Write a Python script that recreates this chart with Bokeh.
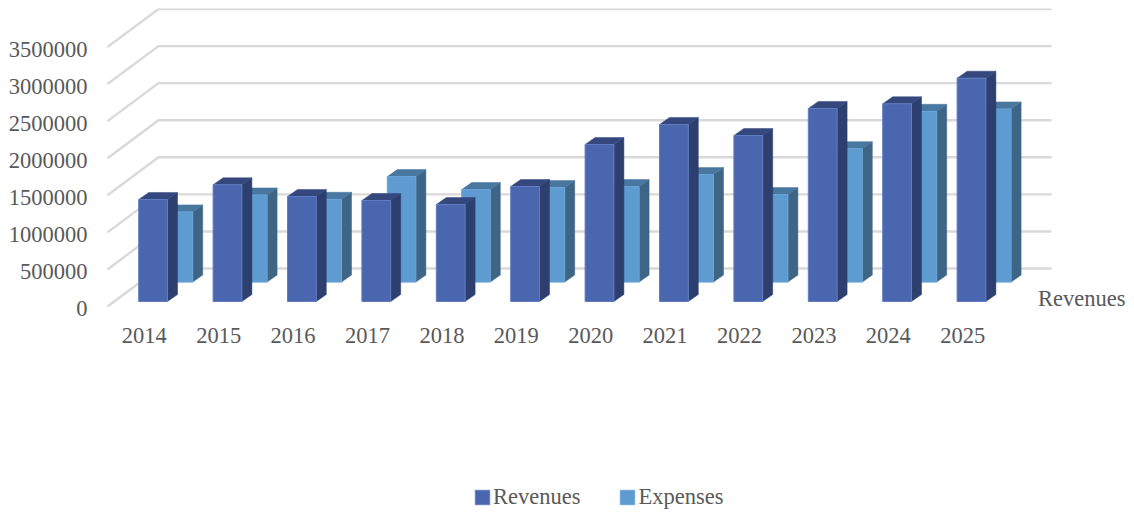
from bokeh.plotting import figure
from bokeh.layouts import column
from bokeh.models import FixedTicker, BasicTickFormatter, Range1d, Legend, LegendItem, Label
from bokeh.embed import file_html
from bokeh.resources import INLINE

years = [2014, 2015, 2016, 2017, 2018, 2019, 2020, 2021, 2022, 2023, 2024, 2025]
revenues = [1376000, 1574000, 1416000, 1362000, 1308000, 1551000, 2118000, 2387000, 2239000, 2603000, 2667000, 3012000]
expenses = [947000, 1176000, 1117000, 1423000, 1248000, 1275000, 1288000, 1450000, 1180000, 1800000, 2304000, 2336000]
value_ticks = [0, 500000, 1000000, 1500000, 2000000, 2500000, 3000000, 3500000]
series_names = ["Revenues", "Expenses"]

# Scales: pixels per year / value units per pixel
PX_YEAR = 74.4
VAL_PX = 13488.0
YEAR_PX = 1 / PX_YEAR
W, H, LEG_H = 1134, 470, 44
FRAME_L, FRAME_R, FRAME_T, FRAME_B = 92, 1126, 8, 322
TICK0_X, ZERO_Y = 143.8, 306
LABEL_DROP = 2  # value labels sit slightly below their gridline ends

FONT = "Liberation Serif"
TXT = "#595959"
FS = "22.5px"
REV = dict(front="#4A66AE", top="#34487E", side="#2D3F6F", edge="#5F7DC0")
EXP = dict(front="#5E9BD1", top="#48779F", side="#3E6586", edge="#6AA4D8")

y0, y1 = (ZERO_Y - FRAME_B) * VAL_PX, (ZERO_Y - FRAME_T) * VAL_PX
p = figure(width=W, height=H, output_backend="svg", toolbar_location=None,
           min_border_left=FRAME_L, min_border_right=W - FRAME_R, min_border_top=FRAME_T,
           min_border_bottom=H - FRAME_B,
           x_range=Range1d(years[0] + (FRAME_L - TICK0_X) * YEAR_PX, years[0] + (FRAME_R - TICK0_X) * YEAR_PX),
           y_range=Range1d(y0, y1))
p.extra_y_ranges = {"labels": Range1d(y0 + LABEL_DROP * VAL_PX, y1 + LABEL_DROP * VAL_PX)}
p.outline_line_color = None
p.background_fill_color = None
p.border_fill_color = "white"
p.grid.visible = False

for ax, tk in ((p.xaxis[0], years), (p.yaxis[0], value_ticks)):
    ax.ticker = FixedTicker(ticks=tk)
    ax.formatter = BasicTickFormatter(use_scientific=False)
    ax.axis_line_color = None
    ax.major_tick_line_color = None
    ax.minor_tick_line_color = None
    ax.major_tick_out = 0
    ax.major_tick_in = 0
    ax.major_label_text_font = FONT
    ax.major_label_text_font_size = FS
    ax.major_label_text_color = TXT
p.xaxis[0].major_label_standoff = 5
p.yaxis[0].major_label_standoff = 5
p.yaxis[0].y_range_name = "labels"


def dx(px):
    return px * YEAR_PX


def dy(px):
    return px * VAL_PX


# gridlines: front-left -> back-left -> back-right
GRID_FRONT_X, GRID_BACK_X, GRID_END_X = 107, 158, 1051
GRID_DEPTH = 38
gx0 = years[0] + (GRID_FRONT_X - TICK0_X) * YEAR_PX
gx1 = years[0] + (GRID_BACK_X - TICK0_X) * YEAR_PX
gx2 = years[0] + (GRID_END_X - TICK0_X) * YEAR_PX
p.multi_line([[gx0, gx1, gx2] for _ in value_ticks],
             [[v, v + dy(GRID_DEPTH), v + dy(GRID_DEPTH)] for v in value_ticks],
             line_color="#D9D9D9", line_width=2.4, line_join="miter")


def bars(vals, left_off, width, base_px, c):
    """3-D column: front quad, top and side parallelograms from the values."""
    SX, SY = 10.0, 7.0
    lefts = [y + dx(left_off) for y in years]
    rights = [l + dx(width) for l in lefts]
    base = dy(ZERO_Y - base_px)
    tops = [base + v for v in vals]
    p.patches([[r, r + dx(SX), r + dx(SX), r] for r in rights],
              [[base, base + dy(SY), t + dy(SY), t] for t in tops],
              fill_color=c["side"], line_color=c["side"], line_width=0.5)
    p.patches([[l, l + dx(SX), r + dx(SX), r] for l, r in zip(lefts, rights)],
              [[t, t + dy(SY), t + dy(SY), t] for t in tops],
              fill_color=c["top"], line_color=c["top"], line_width=0.5)
    p.quad(left=lefts, right=rights, bottom=base, top=tops,
           fill_color=c["front"], line_color=c["edge"], line_width=1)


bars(expenses, 19.8, 28.6, 281.6, EXP)
bars(revenues, -5.6, 28.8, 301, REV)

p.add_layout(Label(x=years[0] + (1037.5 - TICK0_X) * YEAR_PX, y=(ZERO_Y - 297.5) * VAL_PX,
                   text=series_names[0], text_font=FONT, text_font_size=FS, text_color=TXT,
                   text_baseline="middle", text_align="left"))

# Legend strip below the chart (its frame is aligned with the chart's frame by the column)
q = figure(width=W, height=LEG_H, output_backend="svg", toolbar_location=None,
           min_border=0, x_range=Range1d(0, 1), y_range=Range1d(0, 1),
           x_axis_type=None, y_axis_type=None)
q.outline_line_color = None
q.background_fill_color = None
q.border_fill_color = "white"
q.grid.visible = False
# key renderers live outside the strip's range; only their legend swatches show
key_rev = q.quad(left=[2], right=[3], bottom=[2], top=[3], fill_color=REV["front"], line_color=REV["edge"])
key_exp = q.quad(left=[2], right=[3], bottom=[2], top=[3], fill_color=EXP["front"], line_color=EXP["edge"])
legend = Legend(items=[LegendItem(label=series_names[0], renderers=[key_rev]),
                       LegendItem(label=series_names[1], renderers=[key_exp])],
                orientation="horizontal", location=(473 - FRAME_L, 4),
                glyph_width=18, glyph_height=18, label_standoff=2, spacing=38,
                padding=0, margin=0, border_line_color=None, background_fill_color=None,
                label_text_font=FONT, label_text_font_size=FS, label_text_color=TXT)
q.add_layout(legend, "center")

open("out.html", "w").write(file_html(column(p, q, spacing=0), INLINE))
